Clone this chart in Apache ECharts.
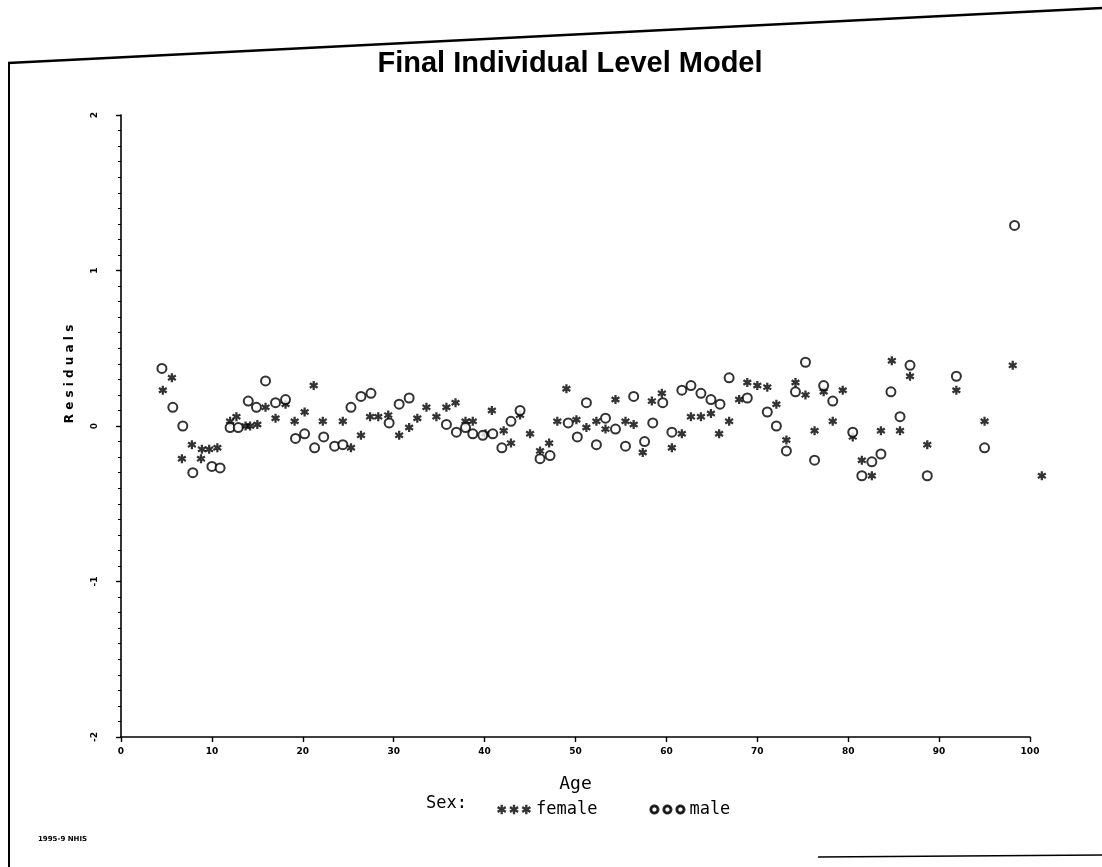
<!DOCTYPE html>
<html>
<head>
<meta charset="utf-8">
<script src="https://cdn.jsdelivr.net/npm/echarts@6/dist/echarts.min.js"></script>
<style>html,body{margin:0;padding:0;background:#fff;}#c{width:1102px;height:867px;}</style>
</head>
<body>
<div id="c"></div>
<script>
// ---- data ----
const titleText = 'Final Individual Level Model';
const xTicks = [0, 10, 20, 30, 40, 50, 60, 70, 80, 90, 100];
const yTicks = [-2, -1, 0, 1, 2];
const legendNames = ['female', 'male'];

const femaleAge = [4.6,5.6,6.7,7.8,8.8,8.9,9.7,10.6,12.0,12.7,13.7,14.2,15.0,15.9,17.0,18.1,19.1,20.2,21.2,22.2,24.4,25.3,26.4,27.4,28.3,29.4,30.6,31.7,32.6,33.6,34.7,35.8,36.8,37.9,38.7,40.1,40.8,42.1,42.9,43.9,45.0,46.1,47.1,48.0,49.0,50.1,51.2,52.3,53.3,54.4,55.5,56.4,57.4,58.4,59.5,60.6,61.7,62.7,63.8,64.9,65.8,66.9,68.0,68.9,70.0,71.1,72.1,73.2,74.2,75.3,76.3,77.3,78.3,79.4,80.5,81.5,82.6,83.6,84.8,85.7,86.8,88.7,91.9,95.0,98.1,101.3];
const femaleResid = [0.23,0.31,-0.21,-0.12,-0.21,-0.15,-0.15,-0.14,0.03,0.06,0.00,0.00,0.01,0.12,0.05,0.14,0.03,0.09,0.26,0.03,0.03,-0.14,-0.06,0.06,0.06,0.07,-0.06,-0.01,0.05,0.12,0.06,0.12,0.15,0.03,0.03,-0.05,0.10,-0.03,-0.11,0.07,-0.05,-0.16,-0.11,0.03,0.24,0.04,-0.01,0.03,-0.02,0.17,0.03,0.01,-0.17,0.16,0.21,-0.14,-0.05,0.06,0.06,0.08,-0.05,0.03,0.17,0.28,0.26,0.25,0.14,-0.09,0.28,0.20,-0.03,0.22,0.03,0.23,-0.07,-0.22,-0.32,-0.03,0.42,-0.03,0.32,-0.12,0.23,0.03,0.39,-0.32];

const maleAge = [4.5,5.7,6.8,7.9,10.0,10.9,12.0,12.9,14.0,14.9,15.9,17.0,18.1,19.2,20.2,21.3,22.3,23.5,24.4,25.3,26.4,27.5,29.5,30.6,31.7,35.8,36.9,37.9,38.7,39.8,40.9,41.9,42.9,43.9,46.1,47.2,49.2,50.2,51.2,52.3,53.3,54.4,55.5,56.4,57.6,58.5,59.6,60.6,61.7,62.7,63.8,64.9,65.9,66.9,68.9,71.1,72.1,73.2,74.2,75.3,76.3,77.3,78.3,80.5,81.5,82.6,83.6,84.7,85.7,86.8,88.7,91.9,95.0,98.3];
const maleResid = [0.37,0.12,0.00,-0.30,-0.26,-0.27,-0.01,-0.01,0.16,0.12,0.29,0.15,0.17,-0.08,-0.05,-0.14,-0.07,-0.13,-0.12,0.12,0.19,0.21,0.02,0.14,0.18,0.01,-0.04,-0.01,-0.05,-0.06,-0.05,-0.14,0.03,0.10,-0.21,-0.19,0.02,-0.07,0.15,-0.12,0.05,-0.02,-0.13,0.19,-0.10,0.02,0.15,-0.04,0.23,0.26,0.21,0.17,0.14,0.31,0.18,0.09,0.00,-0.16,0.22,0.41,-0.22,0.26,0.16,-0.04,-0.32,-0.23,-0.18,0.22,0.06,0.39,-0.32,0.32,-0.14,1.29];

// ---- symbol shapes (single non-overlapping polygons) ----
function asterisk(cx) {
  const R = 5, hw = 1.25, rin = 2 * hw;
  const pts = [];
  for (let k = 0; k < 6; k++) {
    const t = (-90 + k * 60) * Math.PI / 180;
    const ti = t - Math.PI / 6;
    pts.push([cx + rin * Math.cos(ti), rin * Math.sin(ti)]);
    const dx = Math.cos(t), dy = Math.sin(t), nx = -Math.sin(t), ny = Math.cos(t);
    pts.push([cx + R * dx - hw * nx, R * dy - hw * ny]);
    pts.push([cx + R * dx + hw * nx, R * dy + hw * ny]);
  }
  return 'M' + pts.map(p => p[0].toFixed(3) + ',' + p[1].toFixed(3)).join(' L') + ' Z';
}
function ring(cx) {
  const ro = 4, ri = 3, n = 36, pts = [];
  for (let i = 0; i <= n; i++) {
    const a = (4 + i * (352 / n)) * Math.PI / 180;
    pts.push([cx + ro * Math.cos(a), ro * Math.sin(a)]);
  }
  for (let i = n; i >= 0; i--) {
    const a = (4 + i * (352 / n)) * Math.PI / 180;
    pts.push([cx + ri * Math.cos(a), ri * Math.sin(a)]);
  }
  return 'M' + pts.map(p => p[0].toFixed(3) + ',' + p[1].toFixed(3)).join(' L') + ' Z';
}
const starSym = 'path://' + asterisk(0);
const legendStar = 'path://' + asterisk(0) + ' ' + asterisk(13) + ' ' + asterisk(26);
const legendRing = 'path://' + ring(0) + ' ' + ring(13) + ' ' + ring(26);

const femaleData = femaleAge.map((a, i) => [a, femaleResid[i]]);
const maleData = maleAge.map((a, i) => [a, maleResid[i]]);

const chart = echarts.init(document.getElementById('c'));
chart.setOption({
  backgroundColor: '#fff',
  animation: false,
  title: {
    text: titleText,
    left: 565, top: 44, textAlign: 'center',
    textStyle: { fontFamily: 'Liberation Sans', fontWeight: 'bold', fontSize: 29, color: '#000' }
  },
  grid: { left: 121, right: 72, top: 115, bottom: 130, containLabel: false },
  xAxis: {
    type: 'value', min: 0, max: 100, interval: 10,
    name: 'Age', nameLocation: 'middle', nameGap: 38,
    nameTextStyle: { fontFamily: 'DejaVu Sans Mono', fontSize: 18, color: '#000' },
    axisLine: { show: true, onZero: false, lineStyle: { color: '#000', width: 1.6 } },
    axisTick: { show: true, length: 5, lineStyle: { color: '#000', width: 1.4 } },
    axisLabel: { color: '#000', fontSize: 9, fontWeight: 'bold', fontFamily: 'DejaVu Sans', margin: 10,
      formatter: v => xTicks.includes(v) ? String(v) : '' },
    splitLine: { show: false }
  },
  yAxis: {
    type: 'value', min: -2, max: 2, interval: 1,
    axisLine: { show: true, onZero: false, lineStyle: { color: '#000', width: 1.6 } },
    axisTick: { show: true, length: 5, lineStyle: { color: '#000', width: 1.4 } },
    minorTick: { show: true, splitNumber: 10, length: 3, lineStyle: { color: '#000', width: 1 } },
    axisLabel: { color: '#000', fontSize: 9, fontWeight: 'bold', fontFamily: 'DejaVu Sans', rotate: 90, margin: 22,
      formatter: v => yTicks.includes(v) ? String(v) : '' },
    splitLine: { show: false }
  },
  legend: {
    left: 492, top: 796, itemWidth: 34, itemHeight: 10, itemGap: 52,
    data: [
      { name: legendNames[0], icon: legendStar },
      { name: legendNames[1], icon: legendRing }
    ],
    textStyle: { fontFamily: 'DejaVu Sans Mono', fontSize: 17, color: '#000' },
    selectedMode: false
  },
  graphic: [
    { type: 'text', left: 426, top: 795, style: { text: 'Sex:', font: '17px "DejaVu Sans Mono"', fill: '#000' } },
    { type: 'text', x: 70, y: 374, rotation: Math.PI / 2,
      style: { text: 'R e s i d u a l s', font: 'bold 12px "DejaVu Sans"', fill: '#000', align: 'center', verticalAlign: 'middle' } },
    { type: 'text', left: 38, top: 836, style: { text: '1995-9 NHIS', font: 'bold 7px "DejaVu Sans"', fill: '#000' } },
    { type: 'line', shape: { x1: 8, y1: 63, x2: 1102, y2: 8 }, style: { stroke: '#000', lineWidth: 2.5 } },
    { type: 'line', shape: { x1: 9, y1: 62, x2: 9, y2: 867 }, style: { stroke: '#000', lineWidth: 2 } },
    { type: 'line', shape: { x1: 818, y1: 857, x2: 1102, y2: 855 }, style: { stroke: '#000', lineWidth: 1.5 } }
  ],
  series: [
    {
      name: legendNames[0], type: 'scatter', data: femaleData, clip: false,
      symbol: starSym, symbolSize: 9,
      itemStyle: { color: '#000' }
    },
    {
      name: legendNames[1], type: 'scatter', data: maleData, clip: false,
      symbol: 'emptyCircle', symbolSize: 9,
      itemStyle: { color: '#000', borderColor: '#000', borderWidth: 1.8 }
    }
  ]
});
</script>
</body>
</html>
